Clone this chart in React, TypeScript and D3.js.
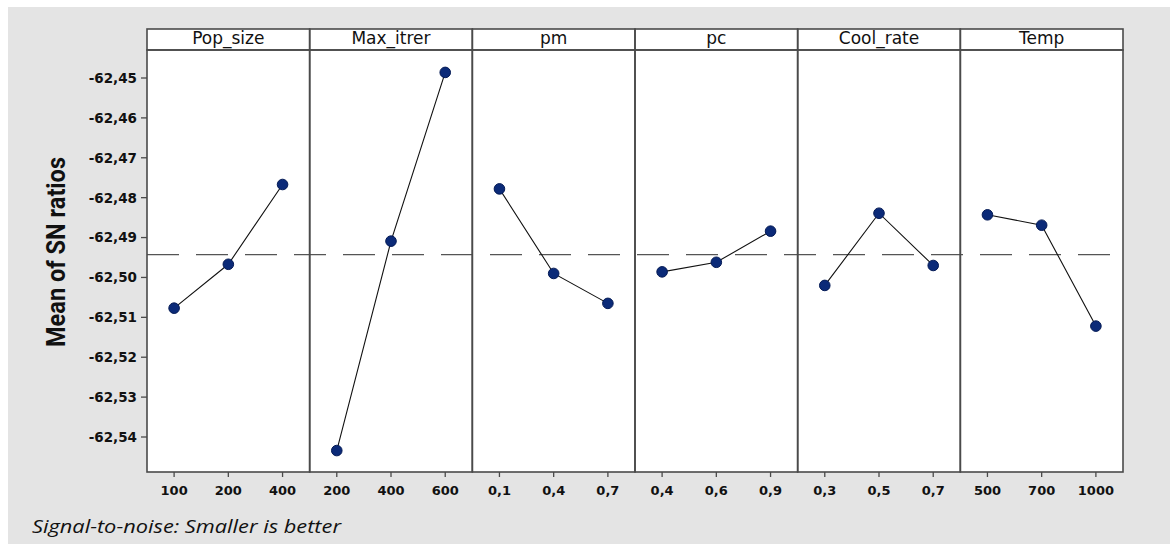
import React from "react";
import * as d3 from "d3";

// Factors of the Taguchi design and the level labels used on each panel
const factors = ["Pop_size", "Max_itrer", "pm", "pc", "Cool_rate", "Temp"];

const popSizeLevels = ["100", "200", "400"];
const maxItrerLevels = ["200", "400", "600"];
const pmLevels = ["0,1", "0,4", "0,7"];
const pcLevels = ["0,4", "0,6", "0,9"];
const coolRateLevels = ["0,3", "0,5", "0,7"];
const tempLevels = ["500", "700", "1000"];

// Mean S/N ratio at each level
const popSizeMeans = [-62.5077, -62.4967, -62.4767];
const maxItrerMeans = [-62.5434, -62.4909, -62.4486];
const pmMeans = [-62.4778, -62.499, -62.5065];
const pcMeans = [-62.4986, -62.4962, -62.4884];
const coolRateMeans = [-62.502, -62.4839, -62.497];
const tempMeans = [-62.4843, -62.4869, -62.5122];

const yTicks = [-62.45, -62.46, -62.47, -62.48, -62.49, -62.5, -62.51, -62.52, -62.53, -62.54];

const panels = [
  { levels: popSizeLevels, means: popSizeMeans },
  { levels: maxItrerLevels, means: maxItrerMeans },
  { levels: pmLevels, means: pmMeans },
  { levels: pcLevels, means: pcMeans },
  { levels: coolRateLevels, means: coolRateMeans },
  { levels: tempLevels, means: tempMeans },
];

const W = 1170;
const H = 544;
const left = 147;
const right = 1123;
const stripTop = 29;
const plotTop = 50;
const plotBottom = 472;

const fmt = (v: number) => v.toFixed(2).replace(".", ",");

export default function App() {
  const x = d3.scaleBand<string>().domain(factors).range([left, right]).paddingInner(0).paddingOuter(0);
  const y = d3.scaleLinear().domain([-62.54, -62.45]).range([437, 78]);
  const grandMean = d3.mean(panels.flatMap((p) => p.means)) as number;
  const line = d3.line<[number, number]>().x((d) => d[0]).y((d) => d[1]);
  const bw = x.bandwidth();
  const border = "#4a4a4a";

  return (
    <svg
      width={W}
      height={H}
      style={{ position: "absolute", left: 0, top: 0, display: "block" }}
      fontFamily="'DejaVu Sans', 'Open Sans', sans-serif"
    >
      <rect x={8} y={7} width={W - 8} height={H - 7} fill="#e4e4e4" />

      {/* plot area and strips */}
      <rect x={left} y={stripTop} width={right - left} height={plotBottom - stripTop} fill="#fff" />

      {/* reference line at the overall mean */}
      <line
        x1={left}
        x2={right}
        y1={y(grandMean)}
        y2={y(grandMean)}
        stroke="#555"
        strokeWidth={1.3}
        strokeDasharray="32 17"
      />

      {factors.map((f, i) => {
        const x0 = x(f) as number;
        const px = d3.scalePoint<string>().domain(panels[i].levels).range([x0, x0 + bw]).padding(0.5);
        const pts: [number, number][] = panels[i].levels.map((l, j) => [px(l) as number, y(panels[i].means[j])]);
        return (
          <g key={f}>
            <rect x={x0} y={stripTop} width={bw} height={plotTop - stripTop} fill="none" stroke={border} strokeWidth={1.6} />
            <rect x={x0} y={plotTop} width={bw} height={plotBottom - plotTop} fill="none" stroke={border} strokeWidth={1.6} />
            <text x={x0 + bw / 2} y={44} textAnchor="middle" fontSize={17} fill="#111">
              {f}
            </text>
            <path d={line(pts) as string} fill="none" stroke="#111" strokeWidth={1.1} />
            {pts.map((p, j) => (
              <circle key={j} cx={p[0]} cy={p[1]} r={5.3} fill="#0b2a78" stroke="#041a55" strokeWidth={1} />
            ))}
            {panels[i].levels.map((l) => (
              <g key={l} transform={`translate(${px(l)},${plotBottom})`}>
                <line y1={0} y2={5} stroke={border} strokeWidth={1.3} />
                <text y={23} textAnchor="middle" fontSize={13} fontWeight={700} fill="#111">
                  {l}
                </text>
              </g>
            ))}
          </g>
        );
      })}

      {/* y axis ticks */}
      {yTicks.map((t) => (
        <g key={t} transform={`translate(${left},${y(t)})`}>
          <line x1={-6} x2={0} stroke={border} strokeWidth={1.3} />
          <text x={-10} dy="0.36em" textAnchor="end" fontSize={13.5} fontWeight={700} fill="#111">
            {fmt(t)}
          </text>
        </g>
      ))}

      <text
        transform={`translate(65,${(157 + 347) / 2}) rotate(-90)`}
        textAnchor="middle"
        fontFamily="'Liberation Sans Narrow', 'Roboto', sans-serif"
        fontSize={25}
        fontWeight={700}
        fill="#111"
        textLength={190}
        lengthAdjust="spacingAndGlyphs"
      >
        Mean of SN ratios
      </text>

      <text
        x={32}
        y={533}
        fontFamily="'Open Sans', sans-serif"
        fontSize={19}
        fontStyle="italic"
        fill="#111"
        textLength={309}
        lengthAdjust="spacingAndGlyphs"
      >
        Signal-to-noise: Smaller is better
      </text>
    </svg>
  );
}
